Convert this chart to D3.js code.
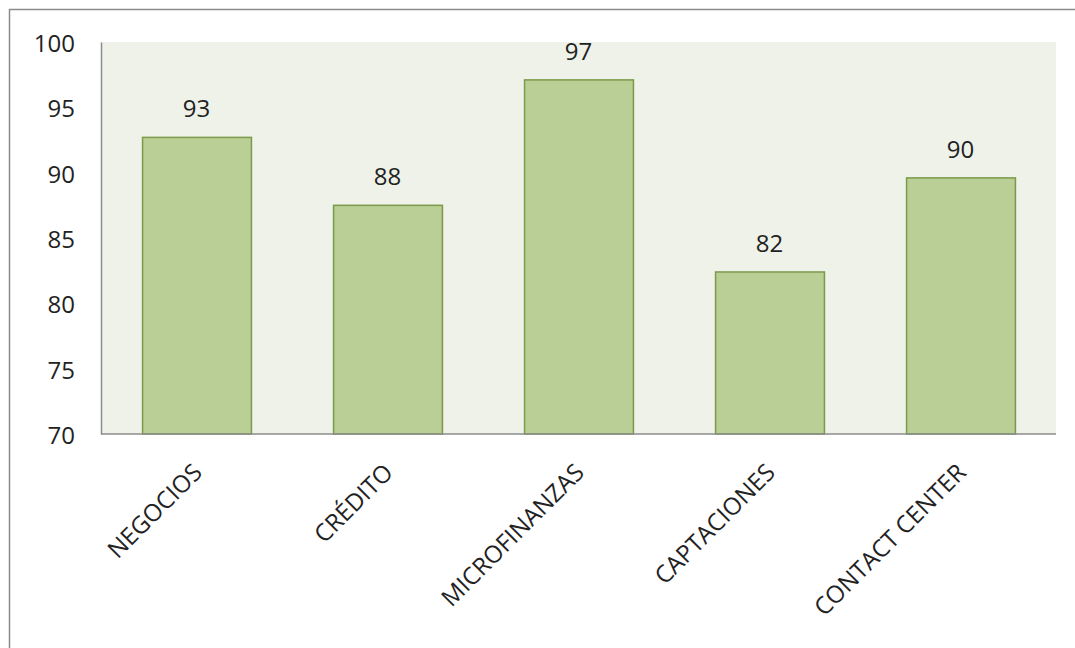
<!DOCTYPE html>
<html><head><meta charset="utf-8">
<script src="https://cdn.jsdelivr.net/npm/d3@7"></script>
<style>body{margin:0;background:#fff}svg{display:block}text{font-family:"Open Sans",sans-serif;fill:#222}</style>
</head><body><svg id="c" width="1075" height="648"></svg>
<script>
const categories = ["NEGOCIOS","CRÉDITO","MICROFINANZAS","CAPTACIONES","CONTACT CENTER"];
const values = [92.7, 87.5, 97.1, 82.4, 89.6];
const valueLabels = ["93","88","97","82","90"];
const yTicks = [70,75,80,85,90,95,100];

const svg = d3.select("#c");
const m = {l:101, r:1056, t:42, b:434};
svg.append("rect").attr("x",9.5).attr("y",9.5).attr("width",1100).attr("height",700)
  .attr("fill","#fff").attr("stroke","#8c8c8c").attr("stroke-width",1.5);

const x = d3.scaleBand().domain(categories).range([m.l, m.r]).paddingInner(0.43).paddingOuter(0.215);
const y = d3.scaleLinear().domain([70,100]).range([m.b, m.t]);

svg.append("rect").attr("x",m.l).attr("y",m.t).attr("width",m.r-m.l).attr("height",m.b-m.t).attr("fill","#eff2e9");

svg.selectAll(".bar").data(values).join("rect")
  .attr("x",(d,i)=>x(categories[i])+0.5).attr("y",d=>y(d))
  .attr("width",x.bandwidth()).attr("height",d=>y(70)-y(d))
  .attr("fill","#b9cf95").attr("stroke","#7b9a4a").attr("stroke-width",1.5);

svg.selectAll(".vl").data(values).join("text")
  .attr("x",(d,i)=>x(categories[i])+x.bandwidth()/2).attr("y",d=>y(d)-20)
  .attr("text-anchor","middle").attr("font-size",24).text((d,i)=>valueLabels[i]);

const ya = d3.axisLeft(y).tickValues(yTicks).tickSize(0).tickPadding(26);
const gy = svg.append("g").attr("transform",`translate(${m.l},0)`).call(ya);
gy.select(".domain").attr("stroke","#8c8c8c").attr("stroke-width",1.5);
gy.selectAll("text").attr("font-size",24).attr("font-family","Open Sans").attr("fill","#222").attr("dy","0.4em");

const xa = d3.axisBottom(x).tickSize(0).tickPadding(0);
const gx = svg.append("g").attr("transform",`translate(0,${m.b})`).call(xa);
gx.select(".domain").attr("stroke","#8c8c8c").attr("stroke-width",1.5).attr("d",`M${m.l},0H${m.r}`);
gx.selectAll("text").attr("font-size",24).attr("font-family","Open Sans").attr("fill","#222")
  .attr("text-anchor","end").attr("dy",null).attr("y",0)
  .attr("transform","translate(7,40) rotate(-45)");
</script></body></html>
